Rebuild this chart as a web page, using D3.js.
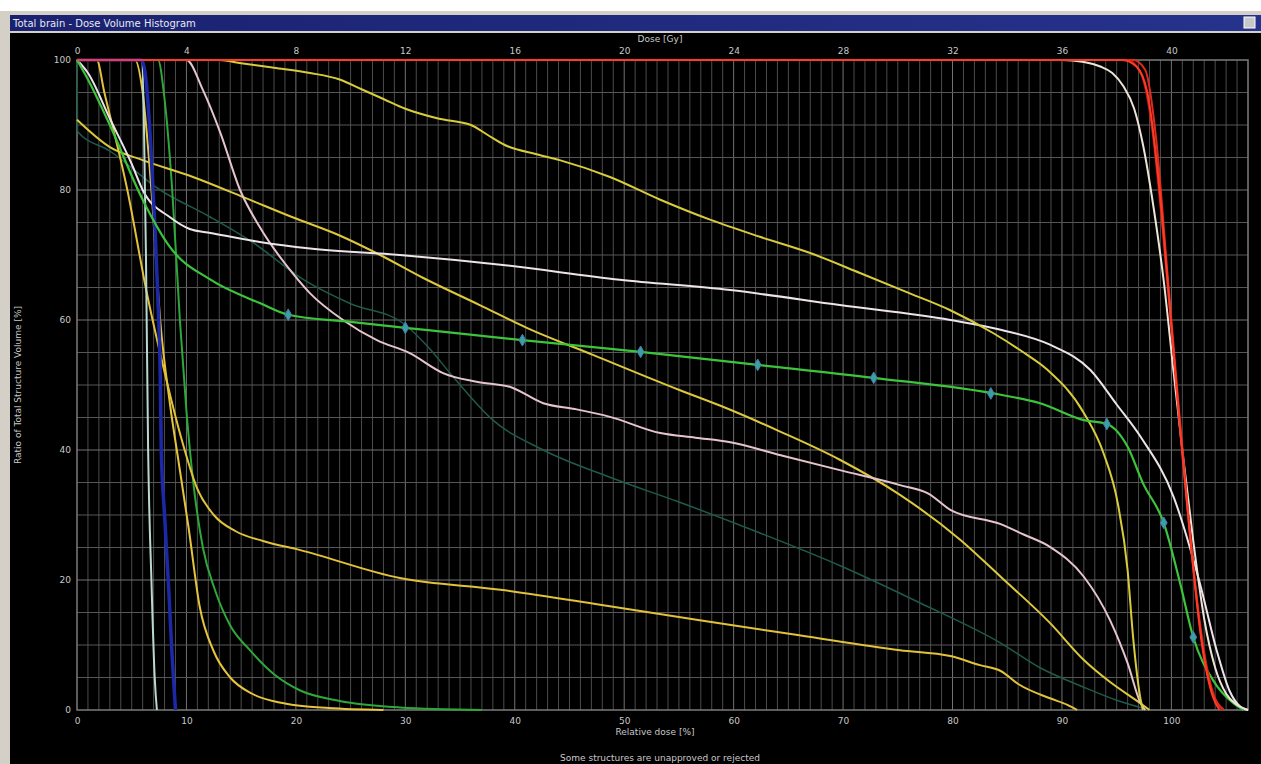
<!DOCTYPE html>
<html>
<head>
<meta charset="utf-8">
<script src="https://cdn.jsdelivr.net/npm/d3@7"></script>
<style>
  body { margin:0; background:#ffffff; }
  svg { display:block; }
  text { font-family: "DejaVu Sans", sans-serif; }
</style>
</head>
<body>
<svg id="chart" width="1261" height="764"></svg>
<script>
// relative dose [%] , volume [%]
var red1   = [[0,100],[95.5,100],[96.8,99],[97.8,95],[98.8,82],[99.8,63],[100.8,43],[101.8,25],[102.8,10],[103.8,2],[104.4,0]];
var red2   = [[0,100],[96.5,100],[97.6,98.5],[98.6,88],[99.6,68],[100.6,48],[101.6,29],[102.6,13],[103.6,3.5],[104.8,0]];
var red3   = [[0,100],[96,100],[97.2,98],[98.2,90],[99.2,74],[100.2,55],[101.2,36],[102.2,19],[103.2,7],[104.2,1],[104.8,0]];
var white1 = [[0,100],[90,100],[92,99.7],[93.5,99],[94.6,98],[95.6,96],[96.6,92.5],[97.4,87],[98.4,77],[99.3,66],[100.2,52],[101,40],[102,26],[103,14],[104,6.5],[105,2.5],[106,0.8],[107,0]];
var white2 = [[0,100],[1,98],[3,91],[5,84],[6,80],[8.5,75.8],[10.3,74],[12.2,73.4],[16.7,72],[21.3,71],[29.5,70],[38.7,68.5],[49.6,66.2],[59.7,64.6],[69.7,62.3],[79.8,60],[84.4,58.5],[88.9,56.2],[92.6,52.3],[95,47],[97.2,42],[100.2,32.8],[102.6,19.5],[104.2,8.8],[105.3,3],[106.3,0.5],[107,0]];
var pink1  = [[0,100],[10,100],[11.5,95.4],[13.1,88.8],[14.9,80],[16.7,74.3],[19.7,67.2],[21.3,64.1],[24.3,60],[27.4,56.9],[30.4,54.9],[33.5,51.8],[36.5,50.5],[39.6,49.7],[42.6,47.2],[45.5,46.3],[48.7,45.1],[53.3,42.6],[56.5,41.9],[59.7,41.2],[64.3,39.2],[69.7,36.9],[75.2,34.6],[77.8,33.3],[79.8,30.8],[84.4,28.6],[86.5,27],[88.9,25.1],[92,20.5],[94.4,13.8],[96,7.2],[97.2,1],[97.6,0]];
var yellow1 = [[0,100],[13,100],[15,99.5],[18,98.8],[21.3,98],[24,97],[26,95.5],[28,94],[30,92.5],[33,91],[36,90],[37.5,88.5],[39,87],[42,85.5],[44.1,84.6],[48.7,82],[53.3,78.5],[57.9,75.4],[62.4,72.8],[67,70.3],[71.6,67.2],[76.1,64.1],[79.8,61.5],[83.7,58],[86.5,55],[88.7,52.3],[92,45.7],[93.8,39.5],[95.1,31.8],[96,21.5],[96.5,11.2],[97.2,1.5],[97.4,0]];
var yellow2 = [[0,90.8],[3,86.6],[6,84.6],[10.6,82],[15.2,78.9],[19.7,75.8],[24,73],[27.7,70],[31.6,66.5],[36.8,62.3],[41.1,58.8],[47.2,54.6],[55.1,49.2],[58.8,46.8],[64.3,42.8],[69.7,38.5],[75.2,33.1],[80.7,26.2],[84.4,20.5],[88.9,13.4],[92,7.7],[94.4,4.3],[97.2,1],[98,0]];
var yellow3 = [[0,100],[1.8,100],[2.5,95],[4.6,80],[6.4,64],[8,52],[9.5,42],[11,34],[12.5,30],[14.5,27.5],[17,26],[20.4,24.6],[29.5,20.3],[38.7,18.5],[47.8,16.2],[56.9,13.8],[66,11.5],[75.2,9.2],[79.8,8.3],[82.5,6.9],[84.4,6],[86,4],[88.9,1.8],[90.5,0.8],[91.4,0]];
var yellow4 = [[0,100],[5.3,100],[6,95],[6.8,80],[7.6,60],[8.5,47],[9.3,38],[10.2,28],[11.2,16],[12.5,9],[14,5],[16,2.5],[19,1],[23,0.3],[28,0]];
var green1 = [[0,100],[1,97],[3,90],[6,78.5],[8.5,71.2],[12.2,66.2],[16.7,62.6],[19.3,60.8],[25,59.7],[30,58.8],[40.7,56.9],[51.5,55.1],[62.2,53.1],[72.8,51.1],[84.4,48.5],[88,47.2],[92,44.6],[94.1,44],[96,40.5],[97.4,34.9],[99.3,28.8],[100.8,19.5],[102,11.2],[103.8,4.6],[105.7,1],[106.6,0]];
var green2 = [[0,100],[7.4,100],[8,94],[8.7,80],[9.4,60],[10,46],[10.6,35.4],[11.5,25],[12.6,18.5],[14,13],[15.8,9.2],[18,5.5],[20.4,3],[24,1.4],[29.5,0.4],[37,0]];
var teal1  = [[0,100],[0.05,89],[3,86],[7.6,80],[12,76],[16,72],[20.7,66.2],[25,62.5],[29.8,59.5],[32,56],[34.4,51.2],[38,44.6],[42.6,40],[48.7,35.8],[55,32],[62,27.5],[70,22],[77,16.5],[84.4,10.3],[88,6.5],[92,3.5],[95,1.5],[98,0]];
var blue1  = [[0,100],[5.9,100],[6.3,97],[6.7,88],[7.1,75],[7.4,63],[7.6,52],[7.7,40],[8,30],[8.4,18],[8.7,8],[9,0]];
var cyan1  = [[0,100],[5.9,100],[6.1,92],[6.3,70],[6.5,40],[6.8,20],[7.1,5],[7.3,0]];

// markers on the green curve
var markX = [19.3,30,40.7,51.5,62.2,72.8,83.5,94.1,99.3,102];
var markY = [60.8,58.8,56.9,55.1,53.1,51.1,48.7,44,28.8,11.2];

var relTicks = [0,10,20,30,40,50,60,70,80,90,100];
var gyTicks  = [0,4,8,12,16,20,24,28,32,36,40];
var volTicks = [0,20,40,60,80,100];

var svg = d3.select("#chart");

// window frame
svg.append("rect").attr("x",0).attr("y",0).attr("width",1261).attr("height",764).attr("fill","#ffffff");
svg.append("rect").attr("x",0).attr("y",11).attr("width",1261).attr("height",753).attr("fill","#d4d0c8");
var grad = svg.append("defs").append("linearGradient").attr("id","tb");
grad.append("stop").attr("offset","0%").attr("stop-color","#1a2270");
grad.append("stop").attr("offset","100%").attr("stop-color","#26338c");
svg.append("rect").attr("x",10).attr("y",15).attr("width",1251).attr("height",16).attr("fill","url(#tb)");
svg.append("text").attr("x",13).attr("y",27).attr("fill","#e8e8f0").style("font-size","10px").text("Total brain - Dose Volume Histogram");
svg.append("rect").attr("x",1244).attr("y",17).attr("width",11).attr("height",11).attr("fill","#c8c8c8").attr("stroke","#ffffff");
svg.append("rect").attr("x",10).attr("y",33).attr("width",1251).attr("height",731).attr("fill","#000000");

var x = d3.scaleLinear().domain([0,107]).range([77,1248]);
var xg = d3.scaleLinear().domain([0,42.8]).range([77,1248]);
var y = d3.scaleLinear().domain([0,100]).range([710,60]);

// grid
var g = svg.append("g");
g.selectAll("line.v").data(d3.range(1,107)).enter().append("line")
  .attr("x1",function(d){return x(d);}).attr("x2",function(d){return x(d);})
  .attr("y1",y(0)).attr("y2",y(100))
  .attr("stroke",function(d){return d%10==0 ? "#727272" : "#4c4c4c";}).attr("stroke-width",1);
g.selectAll("line.h").data(d3.range(5,100,5)).enter().append("line")
  .attr("x1",x(0)).attr("x2",x(107))
  .attr("y1",function(d){return y(d);}).attr("y2",function(d){return y(d);})
  .attr("stroke",function(d){return d%20==0 ? "#727272" : "#565656";}).attr("stroke-width",1);
g.append("rect").attr("x",x(0)).attr("y",y(100)).attr("width",x(107)-x(0)).attr("height",y(0)-y(100))
  .attr("fill","none").attr("stroke","#7c7c7c").attr("stroke-width",1.5);

// axes
var lab = "#c8c8c8";
var ax = svg.append("g").attr("transform","translate(0,"+y(0)+")")
  .call(d3.axisBottom(x).tickValues(relTicks).tickSize(0).tickPadding(8));
var ag = svg.append("g").attr("transform","translate(0,"+y(100)+")")
  .call(d3.axisTop(xg).tickValues(gyTicks).tickSize(0).tickPadding(6));
var ay = svg.append("g").attr("transform","translate("+x(0)+",0)")
  .call(d3.axisLeft(y).tickValues(volTicks).tickSize(0).tickPadding(6));
[ax,ag,ay].forEach(function(a){
  a.select(".domain").remove();
  a.selectAll("text").attr("fill",lab).style("font-size","9px").style("font-family","DejaVu Sans, sans-serif");
});

svg.append("text").attr("x",660).attr("y",42).attr("text-anchor","middle").attr("fill",lab).style("font-size","9px").text("Dose [Gy]");
svg.append("text").attr("x",655).attr("y",735).attr("text-anchor","middle").attr("fill",lab).style("font-size","9px").text("Relative dose [%]");
svg.append("text").attr("x",660).attr("y",761).attr("text-anchor","middle").attr("fill",lab).style("font-size","9px").text("Some structures are unapproved or rejected");
svg.append("text").attr("transform","translate(21,385) rotate(-90)").attr("text-anchor","middle").attr("fill",lab).style("font-size","9px").text("Ratio of Total Structure Volume [%]");

// curves
var line = d3.line().x(function(d){return x(d[0]);}).y(function(d){return y(d[1]);}).curve(d3.curveMonotoneX);
var series = [
  {d:teal1, c:"#1f5a4c", w:1.5},
  {d:green2, c:"#2ea83a", w:2},
  {d:yellow4, c:"#e6c43c", w:2},
  {d:yellow3, c:"#e2c23a", w:2},
  {d:yellow2, c:"#ddc83c", w:2},
  {d:pink1, c:"#e6c4cc", w:2},
  {d:white2, c:"#ece4ea", w:2},
  {d:yellow1, c:"#d8cc3c", w:2},
  {d:cyan1, c:"#b8d8d0", w:2},
  {d:blue1, c:"#1c28a8", w:3.5},
  {d:green1, c:"#3cc43c", w:2.2},
  {d:white1, c:"#ede4d8", w:2},
  {d:red3, c:"#b81c14", w:2},
  {d:red2, c:"#e02a1c", w:2},
  {d:red1, c:"#ff3a26", w:2}
];
svg.append("g").selectAll("path").data(series).enter().append("path")
  .attr("d",function(s){return line(s.d);})
  .attr("fill","none").attr("stroke",function(s){return s.c;}).attr("stroke-width",function(s){return s.w;});

svg.append("g").selectAll("path").data(markX).enter().append("path")
  .attr("d",d3.symbol().type(d3.symbolDiamond).size(40))
  .attr("transform",function(d,i){return "translate("+x(d)+","+y(markY[i])+")";})
  .attr("fill","#3aa0a0").attr("stroke","#4a7ab0").attr("stroke-width",1);
</script>
</body>
</html>
